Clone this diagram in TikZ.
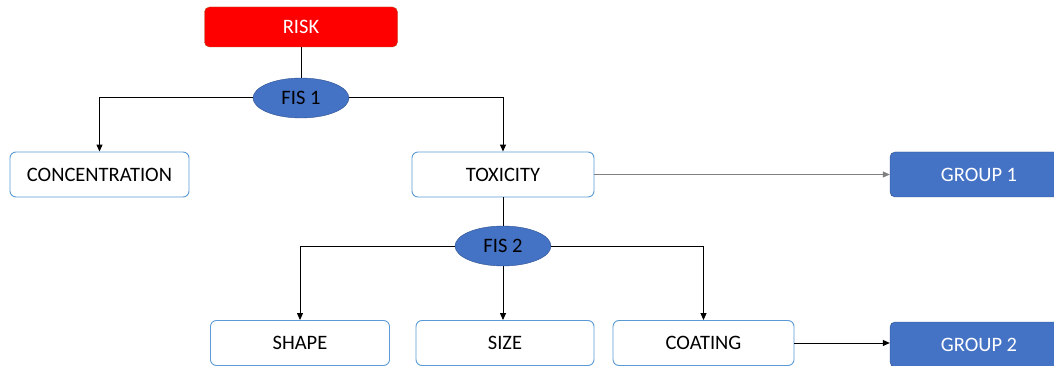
\documentclass[tikz,border=0pt]{standalone}
\usepackage{fontspec}
\setmainfont{Carlito}
\usepackage{xcolor}
\usetikzlibrary{arrows.meta, positioning, shapes.geometric}
\definecolor{riskred}{RGB}{255,0,0}
\definecolor{riskedge}{RGB}{176,84,40}
\definecolor{fisblue}{RGB}{68,114,196}
\definecolor{fisedge}{RGB}{47,82,143}
\definecolor{boxedge}{RGB}{91,155,213}

\begin{document}
\begin{tikzpicture}[x=1pt, y=-1pt,
    every node/.style={font=\fontsize{20.5}{24}\selectfont},
    redbox/.style={draw=riskedge, fill=riskred, text=white, rounded corners=5pt,
        minimum width=193pt, minimum height=40pt, inner sep=0pt},
    whitebox/.style={draw=boxedge, fill=white, text=black, rounded corners=6pt,
        line width=0.9pt, minimum height=45pt, inner sep=0pt},
    bluebox/.style={draw=fisedge, fill=fisblue, text=white, rounded corners=5pt,
        minimum width=190pt, minimum height=45pt, inner sep=0pt},
    fisnode/.style={ellipse, draw=fisedge, fill=fisblue, text=black,
        minimum width=96pt, minimum height=40pt, inner sep=0pt},
    link/.style={line width=1pt, -{Triangle[length=7pt,width=6pt]}}]
    \useasboundingbox (0,0) rectangle (1054,366);
    \clip (0,0) rectangle (1054,366);
    % first level
    \node[redbox] (risk) at (301,27) {RISK};
    \node[fisnode] (fisone) at (301,98) {FIS 1};
    \node[whitebox, minimum width=179pt] (conc) at (99.5,174.5) {CONCENTRATION};
    \node[whitebox, minimum width=182pt] (tox) at (503,174.5) {TOXICITY};
    \node[bluebox] (groupone) at (985,174.5) {\hspace*{-12pt}GROUP 1};
    % second level
    \node[fisnode] (fistwo) at (503,246) {FIS 2};
    \node[whitebox, minimum width=179pt] (shape) at (300,343) {SHAPE};
    \node[whitebox, minimum width=178pt] (size) at (505,343) {SIZE};
    \node[whitebox, minimum width=181pt] (coat) at (703.5,343) {COATING};
    \node[bluebox] (grouptwo) at (985,344.5) {\hspace*{-12pt}GROUP 2};
    % connectors
    \draw[line width=1pt] (risk) -- (fisone);
    \draw[link] (fisone.west) -| (conc.north);
    \draw[link] (fisone.east) -| (tox.north);
    \draw[line width=0.7pt, gray, -{Triangle[length=7pt,width=6pt]}] (tox.east) -- (groupone.west);
    \draw[line width=1pt] (tox) -- (fistwo);
    \draw[link] (fistwo.west) -| (shape.north);
    \draw[link] (fistwo) -- (fistwo |- size.north);
    \draw[link, line width=0.8pt] (fistwo.east) -| (coat.north);
    \draw[link] (coat.east) -- (coat.east -| grouptwo.west);
\end{tikzpicture}
\end{document}
